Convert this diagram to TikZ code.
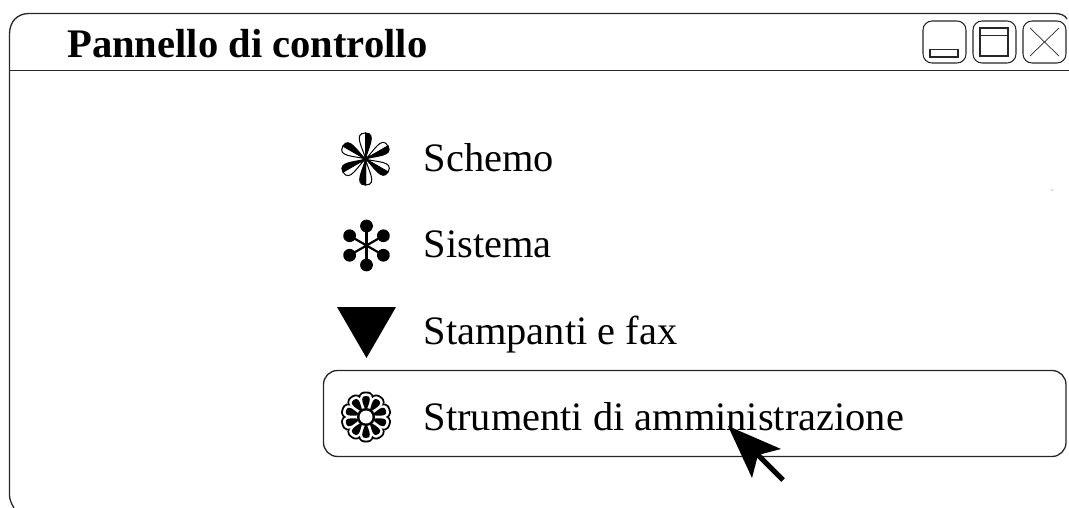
\documentclass[tikz,border=0pt]{standalone}
\usepackage{fontspec}
\setmainfont{Liberation Serif}
\tikzset{
  wline/.style={draw=black!85,line width=1.3pt},
  thinl/.style={draw=black!85,line width=1.05pt},
  itemtext/.style={anchor=base west,inner sep=0pt,font=\fontsize{40.4}{48}\selectfont},
  titletext/.style={anchor=base west,inner sep=0pt,font=\bfseries\fontsize{40.6}{48}\selectfont},
}
\begin{document}
\begin{tikzpicture}[x=1pt,y=-1pt]
\useasboundingbox (0,0) rectangle (1069,508);
% window
\draw[wline] (14,508) .. controls (11,503) and (9.5,499) .. (9.5,495) -- (9.5,34) .. controls (9.5,22) and (17,13.5) .. (29,13.5) -- (1055,13.5) .. controls (1060,13.5) and (1065,15) .. (1067,19);
\draw[wline] (9.5,70.5) -- (1069,70.5);
\node[titletext] (title) at (67,58) {Pannello di controllo};
% buttons
\draw[thinl,rounded corners=9pt] (923,21) rectangle (966,63);
\draw[thinl] (930,49.5) rectangle (958,57);
\draw[thinl,rounded corners=9pt] (973,21) rectangle (1016,63);
\draw[thinl] (980,28) rectangle (1008,56);
\draw[thinl] (980,35.5) -- (1008,35.5);
\draw[thinl,rounded corners=9pt] (1023,21) rectangle (1066,63);
\draw[draw=black!85,line width=0.7pt] (1030,28) -- (1059,56) (1059,28) -- (1030,56);
% selection
\draw[wline,rounded corners=14pt] (323.5,370.5) rectangle (1066,456.5);
% items
\node[itemtext] (schemo) at (423.5,172) {Schemo};
\node[itemtext] (sistema) at (423.5,258) {Sistema};
\node[itemtext] (stampanti) at (423.5,344) {Stampanti e fax};
\node[itemtext] (strumenti) at (423.5,430) {Strumenti di amministrazione};
% icon 1
\begin{scope}[shift={(365.5,159)}]
\foreach \a in {0,60,...,300}{
  \begin{scope}[rotate=\a]
    \draw[black,line width=1pt,fill=white] (0,0) .. controls (-2,-10) and (-13,-26) .. (0,-26) -- cycle;
    \draw[black,line width=1pt,fill=black] (0,0) .. controls (2,-10) and (12,-26) .. (0,-26) -- cycle;
  \end{scope}}
\end{scope}
% icon 2
\begin{scope}[shift={(366.5,245.5)}]
\foreach \a in {0,60,...,300}{
  \begin{scope}[rotate=\a]
    \draw[black,line width=2.2pt] (0,0) -- (0,-19);
    \fill[black] (0,-19.5) circle[radius=6.4];
  \end{scope}}
\end{scope}
% icon 3
\fill[black] (337,307) -- (396,307) -- (366.5,358) -- cycle;
% icon 4
\begin{scope}[shift={(366,417)}]
\foreach \a in {0,36,...,324}{
  \begin{scope}[rotate=\a]
    \fill[black] (0,0) .. controls (5,-8) and (14,-25.5) .. (0,-25.5) .. controls (-14,-25.5) and (-5,-8) .. (0,0);
  \end{scope}}
\foreach \a in {0,36,...,324}{
  \begin{scope}[rotate=\a]
    \fill[white] (0,-4) .. controls (4,-10) and (11,-23.7) .. (0,-23.7) .. controls (-11,-23.7) and (-4,-10) .. (0,-4);
  \end{scope}}
\foreach \a in {0,36,...,324}{
  \begin{scope}[rotate=\a]
    \fill[black] (0,-5) .. controls (1,-10) and (8,-21) .. (0,-21) .. controls (-8,-21) and (-1,-10) .. (0,-5);
  \end{scope}}
\fill[black] (0,0) circle[radius=9];
\fill[white] (0,0) circle[radius=6.5];
\end{scope}
% pointer
\draw[black,line width=5pt] (758,455) -- (783,480);
\fill[black] (728,426) -- (781,449) -- (758,455) -- (752,478) -- cycle;
\fill[black] (1052,190) circle[radius=0.5];
\end{tikzpicture}
\end{document}
